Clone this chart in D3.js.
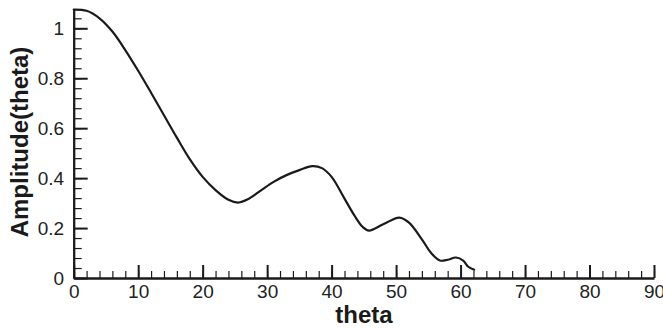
<!DOCTYPE html>
<html>
<head>
<meta charset="utf-8">
<script src="https://cdn.jsdelivr.net/npm/d3@7"></script>
<style>
  html, body { margin: 0; padding: 0; background: #fff; }
  svg { display: block; }
  .tick text { font-family: 'Liberation Sans', Arial, sans-serif; fill: #222; }
</style>
</head>
<body>
<svg id="chart" width="663" height="329"></svg>
<script>
// curve
const theta = [0, 2, 4, 6, 8, 10, 12, 14, 16, 18, 20, 22, 24, 25.5, 27, 29, 31, 33, 35, 37, 38.5,
  40, 42, 43.5, 44.8, 45.8, 48, 50.5, 52, 54, 55.5, 56.8, 58, 59.3, 60.4, 61.2, 62.1];
const amplitude = [1.075, 1.07, 1.04, 0.987, 0.913, 0.83, 0.742, 0.652, 0.562, 0.476, 0.405, 0.352, 0.313, 0.302, 0.315, 0.35, 0.385, 0.412, 0.432, 0.448, 0.44,
  0.405, 0.318, 0.252, 0.205, 0.19, 0.215, 0.242, 0.222, 0.155, 0.098, 0.07, 0.073, 0.082, 0.07, 0.045, 0.033];

const xMajor = [0, 10, 20, 30, 40, 50, 60, 70, 80, 90];
const xLabels = ['0', '10', '20', '30', '40', '50', '60', '70', '80', '90'];
const yMajor = [0, 0.2, 0.4, 0.6, 0.8, 1];
const yLabels = ['0', '0.2', '0.4', '0.6', '0.8', '1'];

const svg = d3.select('#chart');
const ink = '#1a1a1a';

const x = d3.scaleLinear().domain([0, 90]).range([73.7, 654]);
const y = d3.scaleLinear().domain([0, 1.076]).range([278, 278 - 1.076 * 249.7]);

const xMinor = d3.range(0, 90.01, 2);
const yMinor = d3.range(0, 1.076, 0.04);

// minor ticks
svg.append('g').attr('transform', `translate(0,${y(0)})`)
  .call(d3.axisBottom(x).tickValues(xMinor).tickSize(-7).tickFormat(''))
  .call(g => g.select('.domain').remove())
  .call(g => g.selectAll('.tick line').attr('stroke', ink).attr('stroke-width', 1.2));
svg.append('g').attr('transform', `translate(${x(0)},0)`)
  .call(d3.axisLeft(y).tickValues(yMinor).tickSize(-8).tickFormat(''))
  .call(g => g.select('.domain').remove())
  .call(g => g.selectAll('.tick line').attr('stroke', ink).attr('stroke-width', 1.2));

// major ticks + labels
const xAxis = svg.append('g').attr('transform', `translate(0,${y(0)})`)
  .call(d3.axisBottom(x).tickValues(xMajor).tickSize(-13).tickPadding(7)
    .tickFormat((d, i) => xLabels[i]).tickSizeOuter(0));
xAxis.select('.domain').attr('stroke', ink).attr('stroke-width', 2.3);
xAxis.selectAll('.tick line').attr('stroke', ink).attr('stroke-width', 2);
xAxis.selectAll('.tick text').style('font-size', '19px');

const yAxis = svg.append('g').attr('transform', `translate(${x(0)},0)`)
  .call(d3.axisLeft(y).tickValues(yMajor).tickSize(-14).tickPadding(9.5)
    .tickFormat((d, i) => yLabels[i]).tickSizeOuter(0));
yAxis.select('.domain').attr('stroke', ink).attr('stroke-width', 2.3);
yAxis.selectAll('.tick line').attr('stroke', ink).attr('stroke-width', 2);
yAxis.selectAll('.tick text').style('font-size', '19px');

// curve
const pts = theta.map((t, i) => [t, amplitude[i]]);
svg.append('path').datum(pts)
  .attr('fill', 'none').attr('stroke', ink).attr('stroke-width', 2.2)
  .attr('stroke-linejoin', 'round').attr('stroke-linecap', 'round')
  .attr('d', d3.line().x(d => x(d[0])).y(d => y(d[1])).curve(d3.curveCatmullRom.alpha(0.5)));

// axis titles
svg.append('text').attr('x', 364).attr('y', 323).attr('text-anchor', 'middle')
  .style('font-family', "'Liberation Sans', Arial, sans-serif").style('font-weight', 'bold')
  .style('font-size', '24px').attr('fill', ink).text('theta');
svg.append('text').attr('transform', 'translate(28,142) rotate(-90)').attr('text-anchor', 'middle')
  .style('font-family', "'Liberation Sans', Arial, sans-serif").style('font-weight', 'bold')
  .style('font-size', '24px').attr('fill', ink).text('Amplitude(theta)');
</script>
</body>
</html>
